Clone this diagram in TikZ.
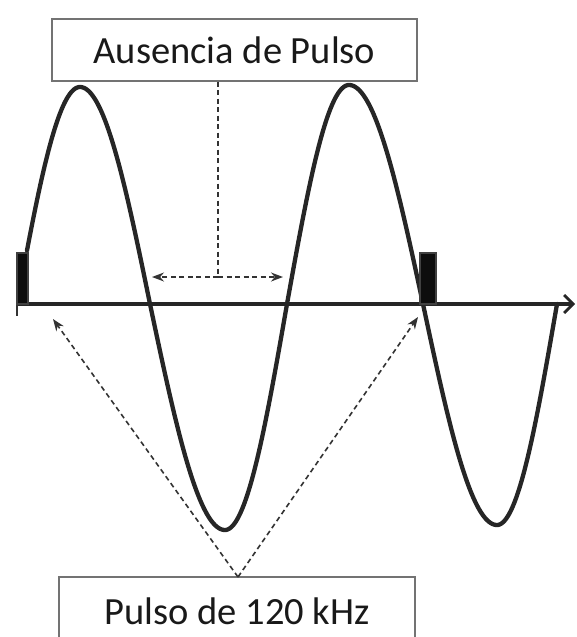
\documentclass[tikz,border=0pt]{standalone}
\usepackage{fontspec}
\setmainfont{Carlito}
\usetikzlibrary{arrows.meta}
\tikzset{
  labelbox/.style={draw=black!55, line width=1.4pt, fill=white, inner sep=0pt, font=\fontsize{38.5}{40}\selectfont, text=black!90},
  wave/.style={line width=4.3pt, black!85},
  pulsebox/.style={draw=black!75, fill=black!95, line width=1.4pt, inner sep=0pt},
  dashline/.style={dash pattern=on 5pt off 3.5pt, line width=1.6pt, black!80},
  dashconn/.style={dashline, -{Stealth[length=12pt,width=9pt]}},
}
\begin{document}
\begin{tikzpicture}[x=1pt,y=-1pt]
\clip (0,0) rectangle (576,637);
\useasboundingbox (0,0) rectangle (576,637);
% wave (hand-drawn, slightly skewed humps)
\draw[wave, line cap=round, line join=round]
  plot[domain=27:80, samples=60] (\x, {304-217*sin(90*(\x-17)/63)})
  -- plot[domain=80:150, samples=60] (\x, {304-217*cos(90*(\x-80)/70)})
  -- plot[domain=150:225, samples=70] (\x, {304+226*sin(90*(\x-150)/75)})
  -- plot[domain=225:287, samples=60] (\x, {304+226*cos(90*(\x-225)/62)})
  -- plot[domain=287:349, samples=60] (\x, {304-219*sin(90*(\x-287)/62)})
  -- plot[domain=349:423, samples=70] (\x, {304-219*cos(90*(\x-349)/74)})
  -- plot[domain=423:497, samples=70] (\x, {304+221*sin(90*(\x-423)/74)})
  -- plot[domain=497:557, samples=60] (\x, {304+221*cos(90*(\x-497)/60)});
% axis
\coordinate (axs) at (16,304);
\coordinate (axe) at (575,304);
\draw[line width=4pt, black!85, -{Straight Barb[length=9pt,width=18pt,line width=2.8pt]}] (axs) -- (axe);
% pulses
\node[pulsebox, minimum width=11pt, minimum height=51pt] (p1) at (22.5,278.5) {};
\node[pulsebox, minimum width=16pt, minimum height=51pt] (p2) at (428,278.5) {};
\draw[line width=2pt, black!80] (p1.south west) ++(1,0) coordinate (t1) -- ++(0,11) coordinate (t2);
% top label
\node[labelbox, minimum width=365pt, minimum height=62pt] (top) at (234.5,50) {Ausencia de Pulso};
\coordinate (mid) at (218,277);
\coordinate (la) at (152,277);
\coordinate (ra) at (283,277);
\draw[dashline] (top.south -| mid) -- (mid);
\draw[dashconn] (mid) -- (la);
\draw[dashconn] (mid) -- (ra);
% bottom label
\node[labelbox, minimum width=356pt, minimum height=68pt] (bot) at (237,611) {Pulso de 120 kHz};
\coordinate (ba) at (238,577);
\coordinate (lt) at (53,319);
\coordinate (rt) at (418,317);
\draw[dashconn] (ba) -- (lt);
\draw[dashconn] (ba) -- (rt);
\end{tikzpicture}
\end{document}
